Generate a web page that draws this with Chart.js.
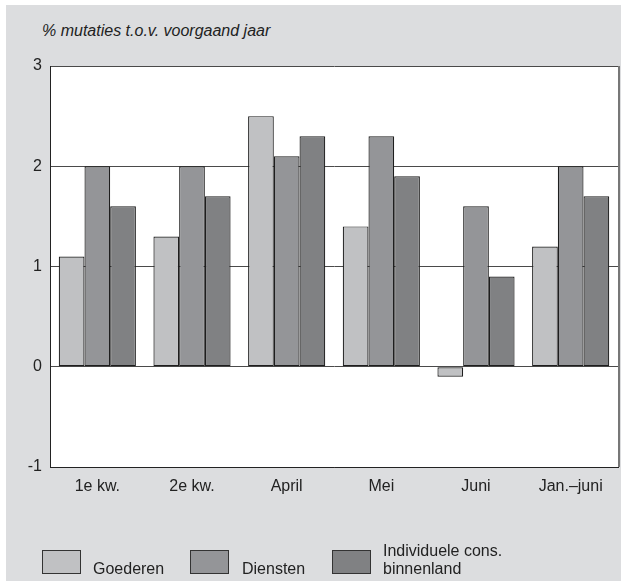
<!DOCTYPE html>
<html>
<head>
<meta charset="utf-8">
<script src="https://cdn.jsdelivr.net/npm/chart.js@4/dist/chart.umd.min.js"></script>
<style>
    body { margin: 0; background: #fff; font-family: "Liberation Sans", Arial, sans-serif; }
    #panel { position: absolute; left: 6px; top: 5px; width: 615px; height: 576px; background: #dcdddf; }
    #chart { position: absolute; left: 0; top: 0; }
    #title { position: absolute; left: 42px; top: 22px; font-size: 16px; font-style: italic; color: #222; line-height: 18px; }
    .lg-box { position: absolute; top: 550px; width: 37px; height: 22px; border: 1px solid #333; }
    .lg-text { position: absolute; font-size: 16px; line-height: 18px; color: #222; }
</style>
</head>
<body>
<div id="panel"></div>
<div id="title">% mutaties t.o.v. voorgaand jaar</div>
<canvas id="chart" width="621" height="581"></canvas>
<div id="legend"></div>
<script>
const categories = ['1e kw.', '2e kw.', 'April', 'Mei', 'Juni', 'Jan.–juni'];
const goederen = [1.1, 1.3, 2.5, 1.4, -0.1, 1.2];
const diensten = [2.0, 2.0, 2.1, 2.3, 1.6, 2.0];
const individueel = [1.6, 1.7, 2.3, 1.9, 0.9, 1.7];
const seriesNames = [['Goederen'], ['Diensten'], ['Individuele cons.', 'binnenland']];
const seriesColors = ['#c0c1c3', '#949598', '#808183'];

// white plot area + right edge
const plotFrame = {
    id: 'plotFrame',
    beforeDraw(chart) {
        const a = chart.chartArea;
        const ctx = chart.ctx;
        ctx.save();
        ctx.fillStyle = '#ffffff';
        ctx.fillRect(a.left, a.top, a.right - a.left, a.bottom - a.top);
        ctx.restore();
    },
    afterDraw(chart) {
        const a = chart.chartArea;
        const ctx = chart.ctx;
        ctx.save();
        ctx.strokeStyle = '#777';
        ctx.lineWidth = 2;
        ctx.beginPath();
        ctx.moveTo(a.right + 1, a.top);
        ctx.lineTo(a.right + 1, a.bottom);
        ctx.stroke();
        ctx.restore();
    }
};

const ctx = document.getElementById('chart').getContext('2d');
const chart = new Chart(ctx, {
    type: 'bar',
    data: {
        labels: categories,
        datasets: [goederen, diensten, individueel].map((d, i) => ({
            label: seriesNames[i].join(' '),
            data: d,
            backgroundColor: seriesColors[i],
            borderColor: '#1e1e1e',
            borderWidth: 1.2,
            borderSkipped: false,
            categoryPercentage: 0.815,
            barPercentage: 1.0
        }))
    },
    options: {
        responsive: false,
        animation: false,
        devicePixelRatio: 1,
        layout: { padding: { left: 0, right: 3, top: 66, bottom: 0 } },
        plugins: {
            legend: { display: false },
            title: { display: false },
            tooltip: { enabled: false }
        },
        scales: {
            y: {
                min: -1,
                max: 3,
                afterFit: (axis) => { axis.width = 50; },
                ticks: {
                    stepSize: 1,
                    padding: 8,
                    color: '#222',
                    font: { family: '"Liberation Sans", Arial, sans-serif', size: 16 }
                },
                grid: { color: '#4a4a4a', lineWidth: 1, drawTicks: false },
                border: { color: '#222', width: 1 }
            },
            x: {
                afterFit: (axis) => { axis.height = 114; },
                ticks: {
                    padding: 10,
                    color: '#222',
                    font: { family: '"Liberation Sans", Arial, sans-serif', size: 16 }
                },
                grid: { display: false, drawTicks: false },
                border: { color: '#222', width: 1 }
            }
        }
    },
    plugins: [plotFrame]
});

// legend built from the datasets
const legendPos = [[42, 93], [190, 242], [332, 383]];
const legend = document.getElementById('legend');
chart.data.datasets.forEach((ds, i) => {
    const box = document.createElement('div');
    box.className = 'lg-box';
    box.style.left = legendPos[i][0] + 'px';
    box.style.background = ds.backgroundColor;
    legend.appendChild(box);
    const txt = document.createElement('div');
    txt.className = 'lg-text';
    txt.style.left = legendPos[i][1] + 'px';
    txt.style.top = (560 - 18 * (seriesNames[i].length - 1)) + 'px';
    txt.innerHTML = seriesNames[i].join('<br>');
    legend.appendChild(txt);
});
</script>
</body>
</html>
